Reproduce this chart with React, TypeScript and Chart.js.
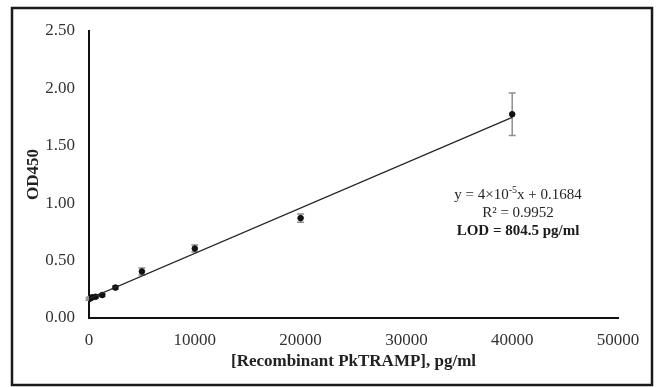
import React, { useEffect, useRef } from "react";
import { Chart, registerables } from "chart.js";

Chart.register(...registerables);

const concentrations = [0, 78.125, 156.25, 312.5, 625, 1250, 2500, 5000, 10000, 20000, 40000];
const odMeans = [0.165, 0.17, 0.175, 0.18, 0.185, 0.2, 0.265, 0.405, 0.605, 0.87, 1.775];
const odErrors = [0.01, 0.01, 0.01, 0.01, 0.01, 0.012, 0.015, 0.03, 0.03, 0.035, 0.185];
const trendX = [0, 40000];
const trendY = [0.1684, 1.748];
const xTicks = [0, 10000, 20000, 30000, 40000, 50000];
const yTicks = [0, 0.5, 1.0, 1.5, 2.0, 2.5];
const xTitle = "[Recombinant PkTRAMP], pg/ml";
const yTitle = "OD450";
const eqPre = "y = 4×10";
const eqSup = "-5";
const eqPost = "x + 0.1684";
const r2Text = "R² = 0.9952";
const lodText = "LOD = 804.5 pg/ml";

const FONT = "'Liberation Serif', 'Times New Roman', serif";

const framePlugin = {
  id: "frame",
  beforeDraw(chart: any) {
    const ctx = chart.ctx;
    ctx.save();
    ctx.fillStyle = "#ffffff";
    ctx.fillRect(0, 0, chart.width, chart.height);
    ctx.strokeStyle = "#1a1a1a";
    ctx.lineWidth = 2.5;
    ctx.strokeRect(12, 8, 640, 377);
    ctx.restore();
  },
};

const errorBarPlugin = {
  id: "errorBars",
  beforeDatasetsDraw(chart: any) {
    const ctx = chart.ctx;
    const xs = chart.scales.x;
    const ys = chart.scales.y;
    ctx.save();
    ctx.strokeStyle = "#8f8f8f";
    ctx.lineWidth = 1.5;
    concentrations.forEach((c, i) => {
      const px = xs.getPixelForValue(c);
      const top = ys.getPixelForValue(odMeans[i] + odErrors[i]);
      const bot = ys.getPixelForValue(odMeans[i] - odErrors[i]);
      ctx.beginPath();
      ctx.moveTo(px, top);
      ctx.lineTo(px, bot);
      ctx.moveTo(px - 3.5, top);
      ctx.lineTo(px + 3.5, top);
      ctx.moveTo(px - 3.5, bot);
      ctx.lineTo(px + 3.5, bot);
      ctx.stroke();
    });
    ctx.restore();
  },
};

const annotationPlugin = {
  id: "equation",
  afterDatasetsDraw(chart: any) {
    const ctx = chart.ctx;
    const cx = 518;
    ctx.save();
    ctx.fillStyle = "#262626";
    ctx.textBaseline = "middle";
    const main = `15px ${FONT}`;
    const small = `10px ${FONT}`;
    ctx.font = main;
    const w1 = ctx.measureText(eqPre).width;
    const w3 = ctx.measureText(eqPost).width;
    ctx.font = small;
    const w2 = ctx.measureText(eqSup).width;
    const total = w1 + w2 + w3;
    let x = cx - total / 2;
    const y1 = 195;
    ctx.textAlign = "left";
    ctx.font = main;
    ctx.fillText(eqPre, x, y1);
    x += w1;
    ctx.font = small;
    ctx.fillText(eqSup, x, y1 - 5);
    x += w2;
    ctx.font = main;
    ctx.fillText(eqPost, x, y1);
    ctx.textAlign = "center";
    ctx.fillText(r2Text, cx, 213);
    ctx.font = `bold 15px ${FONT}`;
    ctx.fillStyle = "#1a1a1a";
    ctx.fillText(lodText, cx, 231);
    ctx.restore();
  },
};

export default function App() {
  const canvasRef = useRef<HTMLCanvasElement | null>(null);

  useEffect(() => {
    if (!canvasRef.current) return;
    const chart = new Chart(canvasRef.current, {
      type: "scatter",
      data: {
        datasets: [
          {
            type: "line",
            label: "Trend",
            data: trendX.map((x, i) => ({ x, y: trendY[i] })),
            borderColor: "#262626",
            borderWidth: 1.3,
            pointRadius: 0,
            fill: false,
          },
          {
            type: "scatter",
            label: "OD450",
            data: concentrations.map((x, i) => ({ x, y: odMeans[i] })),
            backgroundColor: "#111111",
            borderColor: "#111111",
            pointRadius: 2.8,
            pointHoverRadius: 2.8,
          },
        ],
      } as any,
      options: {
        animation: false,
        responsive: false,
        devicePixelRatio: 1,
        layout: { padding: { left: 0, right: 38, top: 31, bottom: 0 } },
        plugins: {
          legend: { display: false },
          tooltip: { enabled: false },
        },
        scales: {
          x: {
            type: "linear",
            min: 0,
            max: 50000,
            afterBuildTicks: (s: any) => {
              s.ticks = xTicks.map((v) => ({ value: v }));
            },
            afterFit: (s: any) => {
              s.height = 69;
            },
            grid: { display: false, drawTicks: false },
            border: { display: true, color: "#111111", width: 2 },
            ticks: {
              padding: 12,
              color: "#333333",
              font: { family: FONT, size: 17 },
              callback: (v: any) => String(v),
              maxRotation: 0,
            },
            title: {
              display: true,
              text: xTitle,
              color: "#222222",
              font: { family: FONT, size: 17, weight: "bold" },
              padding: { top: 0, bottom: 15 },
            },
          },
          y: {
            type: "linear",
            min: 0,
            max: 2.5,
            afterBuildTicks: (s: any) => {
              s.ticks = yTicks.map((v) => ({ value: v }));
            },
            afterFit: (s: any) => {
              s.width = 89;
            },
            grid: { display: false, drawTicks: false },
            border: { display: true, color: "#111111", width: 2 },
            ticks: {
              padding: 14,
              color: "#333333",
              font: { family: FONT, size: 17 },
              callback: (v: any) => Number(v).toFixed(2),
            },
            title: {
              display: true,
              text: yTitle,
              color: "#222222",
              font: { family: FONT, size: 17, weight: "bold" },
              padding: { top: 23, bottom: 0 },
            },
          },
        },
      } as any,
      plugins: [framePlugin, errorBarPlugin, annotationPlugin],
    });
    return () => chart.destroy();
  }, []);

  return (
    <div style={{ position: "fixed", left: 0, top: 0, width: 656, height: 387, background: "#fff" }}>
      <canvas ref={canvasRef} width={656} height={387} style={{ width: 656, height: 387, display: "block" }} />
    </div>
  );
}
